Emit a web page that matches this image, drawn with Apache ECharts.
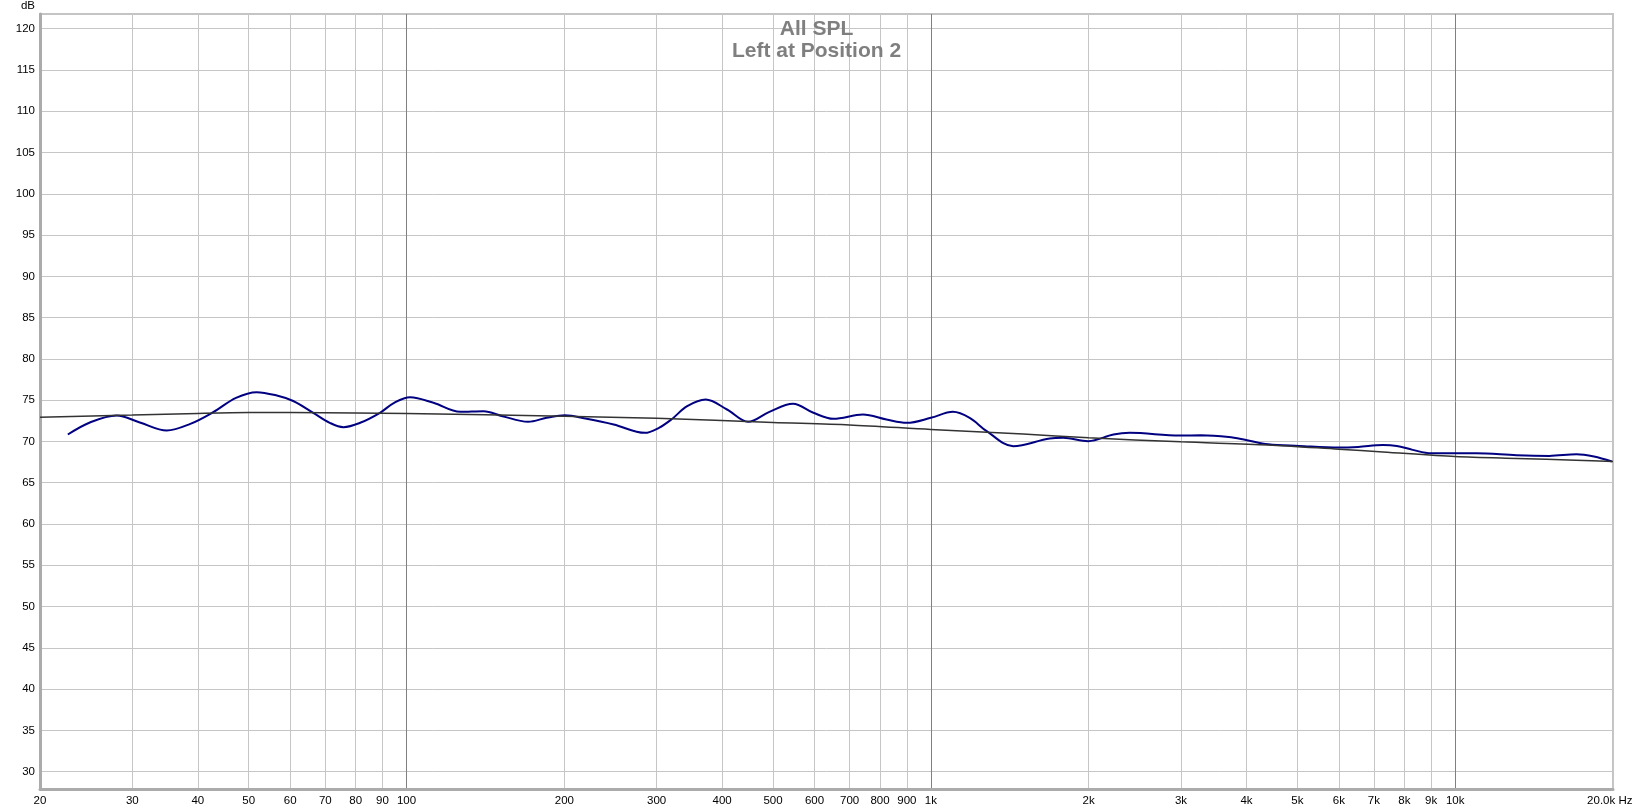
<!DOCTYPE html>
<html><head><meta charset="utf-8">
<script src="https://cdn.jsdelivr.net/npm/echarts@6/dist/echarts.min.js"></script>
<style>html,body{margin:0;padding:0;background:#fff}#c{width:1633px;height:811px}</style>
</head><body><div id="c"></div>
<script>
// Measured response (Hz, dB)
const freqMeasured = [22.6, 24.9, 28.0, 31.0, 34.9, 38.6, 42.8, 47.3, 51.8, 56.6, 60.8, 66.4, 71.4, 75.8, 81.6, 89.0, 94.7, 101.6, 112.6, 126.6, 140.3, 152.5, 170.6, 185, 200.5, 220.6, 248.4, 285, 303, 320, 343, 372, 408.6, 448.4, 491, 546, 597, 652, 742, 823, 900, 1000, 1102, 1186, 1278, 1436, 1686, 1788, 1996, 2230, 2394, 2985, 3274, 3700, 3990, 4400, 5040, 6000, 6530, 7280, 7740, 8300, 9000, 10000, 10960, 13100, 15120, 17040, 18400, 19900];
const splMeasured = [70.84, 72.3, 73.14, 72.3, 71.33, 72.1, 73.55, 75.28, 75.97, 75.56, 74.9, 73.47, 72.26, 71.73, 72.26, 73.47, 74.68, 75.36, 74.68, 73.59, 73.67, 73.06, 72.38, 72.86, 73.18, 72.74, 72.05, 71.04, 71.65, 72.66, 74.27, 75.08, 73.87, 72.38, 73.55, 74.56, 73.47, 72.74, 73.26, 72.66, 72.26, 72.86, 73.59, 72.86, 71.25, 69.43, 70.36, 70.44, 70.04, 70.84, 71.05, 70.72, 70.74, 70.54, 70.18, 69.66, 69.46, 69.26, 69.34, 69.58, 69.46, 68.98, 68.57, 68.57, 68.57, 68.33, 68.25, 68.45, 68.17, 67.57];
// Target curve (Hz, dB)
const freqTarget = [20, 30, 40, 50, 60, 80, 100, 200, 300, 500, 700, 1000, 1500, 2000, 3000, 4400, 6000, 7280, 10000, 13100, 17000, 20000];
const splTarget = [72.94, 73.2, 73.4, 73.5, 73.5, 73.45, 73.4, 73.05, 72.8, 72.3, 72.0, 71.45, 70.9, 70.45, 69.95, 69.58, 69.06, 68.73, 68.17, 67.93, 67.73, 67.57];
// Axis ticks
const xMinorTicks = [20,30,40,50,60,70,80,90,200,300,400,500,600,700,800,900,2000,3000,4000,5000,6000,7000,8000,9000,20000];
const xDecadeTicks = [100,1000,10000];
const xLabelTicks = [20,30,40,50,60,70,80,90,100,200,300,400,500,600,700,800,900,1000,2000,3000,4000,5000,6000,7000,8000,9000,10000,20000];
const yTicks = [30,35,40,45,50,55,60,65,70,75,80,85,90,95,100,105,110,115,120];
const titleLines = ['All SPL', 'Left at Position 2'];

const zip = (a, b) => a.map((v, i) => [v, b[i]]);
const fmtX = v => v === 20000 ? '20.0k Hz  ' : (v >= 1000 ? (v / 1000) + 'k' : String(v));
const FONT = '"Liberation Sans", Arial, sans-serif';

const chart = echarts.init(document.getElementById('c'), null, {renderer: 'canvas'});
chart.setOption({
  animation: false,
  backgroundColor: '#ffffff',
  title: {
    text: titleLines.join('\n'),
    left: 'center', top: 13,
    textStyle: {fontFamily: FONT, fontSize: 21, fontWeight: 'bold', color: '#7f7f7f', lineHeight: 22}
  },
  grid: {left: 40, top: 14, right: 20, bottom: 22, show: true, borderColor: '#c4c4c4', borderWidth: 2,
         backgroundColor: 'transparent', containLabel: false, outerBoundsMode: 'none'},
  xAxis: [{
    type: 'log', logBase: 10, min: 20, max: 20000,
    axisLine: {show: true, lineStyle: {color: '#ababab', width: 3}},
    axisTick: {show: false, customValues: xMinorTicks},
    splitLine: {show: true, lineStyle: {color: '#c6c6c6', width: 1}},
    minorSplitLine: {show: false},
    axisLabel: {customValues: xLabelTicks, formatter: fmtX, color: '#000', fontFamily: FONT, fontSize: 11.5, margin: 6, hideOverlap: false, showMinLabel: true, showMaxLabel: true}
  }, {
    type: 'log', logBase: 10, min: 20, max: 20000, position: 'bottom',
    axisLine: {show: false},
    axisTick: {show: false, customValues: xDecadeTicks},
    axisLabel: {show: false},
    splitLine: {show: true, lineStyle: {color: '#808080', width: 1}}
  }],
  yAxis: {
    type: 'value', min: 27.9, max: 121.78,
    name: 'dB', nameLocation: 'end', nameGap: 8,
    nameTextStyle: {fontFamily: FONT, fontSize: 11.5, color: '#000', align: 'right', verticalAlign: 'middle', padding: [0, 5, 0, 0]},
    axisLine: {show: true, lineStyle: {color: '#ababab', width: 3}},
    axisTick: {show: false, customValues: yTicks},
    splitLine: {show: true, lineStyle: {color: '#c6c6c6', width: 1}},
    axisLabel: {customValues: yTicks, color: '#000', fontFamily: FONT, fontSize: 11.5, margin: 5}
  },
  series: [{
    type: 'line', name: 'Left at Position 2', xAxisIndex: 0,
    data: zip(freqMeasured, splMeasured),
    smooth: 0.35, showSymbol: false, symbol: 'none',
    lineStyle: {color: '#000080', width: 2}, z: 3
  }, {
    type: 'line', name: 'Target', xAxisIndex: 0,
    data: zip(freqTarget, splTarget),
    smooth: 0.3, showSymbol: false, symbol: 'none',
    lineStyle: {color: '#333333', width: 1.5}, z: 4
  }]
});
</script>
</body></html>
